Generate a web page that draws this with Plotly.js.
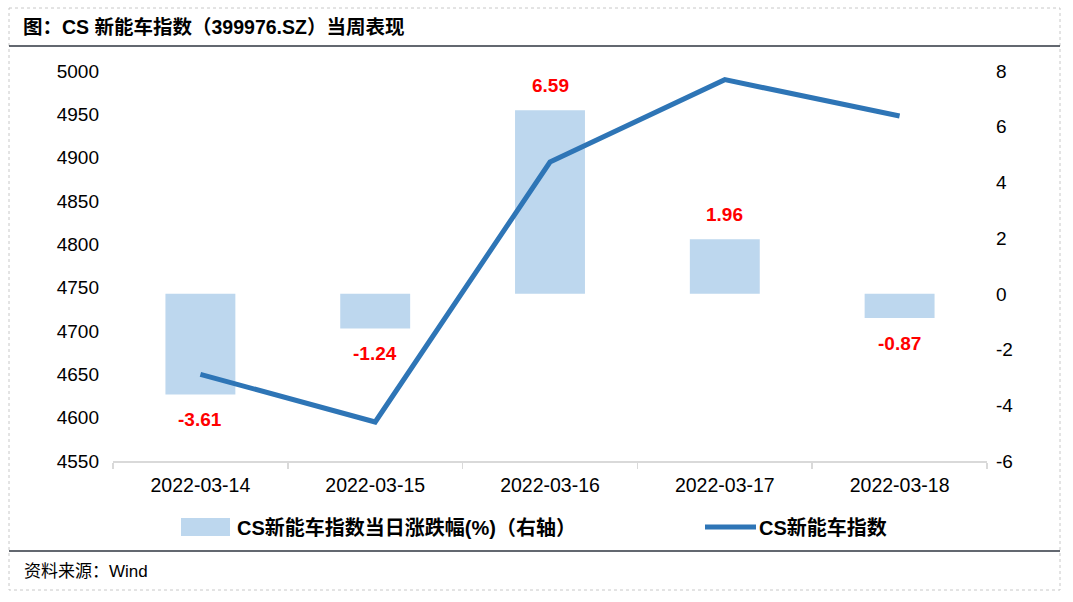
<!DOCTYPE html>
<html>
<head>
<meta charset="utf-8">
<script src="https://cdn.plot.ly/plotly-3.0.1.min.js"></script>
<style>html,body{margin:0;padding:0;background:#fff;}#chart{width:1073px;height:602px;}</style>
</head>
<body>
<div id="chart"></div>
<script>
// ---- data ----
const dates = ["2022-03-14", "2022-03-15", "2022-03-16", "2022-03-17", "2022-03-18"];
const dailyChange = [-3.61, -1.24, 6.59, 1.96, -0.87];          // 当日涨跌幅(%) right axis
const indexClose = [4650, 4595, 4895, 4990, 4948];              // CS新能车指数 left axis
const rightTicks = [-6, -4, -2, 0, 2, 4, 6, 8];
const rightTickText = ["-6", "-4", "-2", "0", "2", "4", "6", "8"];
const barName = "CS新能车指数当日涨跌幅(%)（右轴）";
const lineName = "CS新能车指数";
const titleText = "图：CS 新能车指数（399976.SZ）当周表现";
const sourceText = "资料来源：Wind";

const FONT = "'Liberation Sans', Arial, 'Noto Sans CJK SC', sans-serif";
const barColor = "#bdd7ee";
const lineColor = "#2e75b6";

// plot area geometry (px) for paper-coord conversions
const W = 1073, H = 602, L = 113, R = 86, T = 71, B = 141;
const pw = W - L - R, ph = H - T - B;
const px = x => (x - L) / pw;
const py = y => (H - B - y) / ph;

const traces = [
  {
    type: "bar", x: dates, y: dailyChange, name: barName,
    marker: {color: barColor}, width: 0.4, yaxis: "y", xaxis: "x",
    hoverinfo: "x+y"
  },
  {
    type: "scatter", mode: "lines", x: dates, y: indexClose, name: lineName,
    line: {color: lineColor, width: 5}, yaxis: "y2", xaxis: "x"
  }
];

const annotations = dailyChange.map((v, i) => ({
  x: dates[i], y: v, xref: "x", yref: "y", text: v.toFixed(2),
  showarrow: false, yshift: v >= 0 ? 25 : -25,
  font: {family: FONT, size: 19, color: "#ff0000", weight: "bold"}
}));

annotations.push({
  xref: "paper", yref: "paper", x: px(22), y: py(571), xanchor: "left", yanchor: "middle",
  text: sourceText, showarrow: false, font: {family: FONT, size: 17, color: "#000"}
});
// custom legend labels
annotations.push({
  xref: "paper", yref: "paper", x: px(235), y: py(527), xanchor: "left", yanchor: "middle",
  text: "<b>" + barName + "</b>", showarrow: false, font: {family: FONT, size: 20, color: "#000"}
});
annotations.push({
  xref: "paper", yref: "paper", x: px(757), y: py(527), xanchor: "left", yanchor: "middle",
  text: "<b>" + lineName + "</b>", showarrow: false, font: {family: FONT, size: 20, color: "#000"}
});

const shapes = [
  // dashed outer border
  {type: "rect", xref: "paper", yref: "paper", x0: px(9), x1: px(1060), y0: py(8), y1: py(590),
   line: {color: "#c8c8c8", width: 1, dash: "dot"}},
  // title underline
  {type: "line", xref: "paper", yref: "paper", x0: px(9), x1: px(1060), y0: py(46), y1: py(46),
   line: {color: "#2f3640", width: 1.5}},
  // footer line
  {type: "line", xref: "paper", yref: "paper", x0: px(9), x1: px(1060), y0: py(551), y1: py(551),
   line: {color: "#2f3640", width: 1.5}},
  // legend swatches
  {type: "rect", xref: "paper", yref: "paper", x0: px(181), x1: px(230), y0: py(518), y1: py(536),
   fillcolor: barColor, line: {width: 0}},
  {type: "line", xref: "paper", yref: "paper", x0: px(705), x1: px(756), y0: py(527), y1: py(527),
   line: {color: lineColor, width: 5}}
];

const layout = {
  width: W, height: H,
  margin: {l: L, r: R, t: T, b: B, pad: 0},
  paper_bgcolor: "#fff", plot_bgcolor: "#fff",
  showlegend: false,
  font: {family: FONT, size: 19, color: "#000"},
  title: {
    text: "<b>" + titleText + "</b>", x: 23 / W, xref: "container", xanchor: "left",
    y: 1 - 27 / H, yref: "container", yanchor: "middle",
    font: {family: FONT, size: 19.5, color: "#000"}
  },
  xaxis: {
    type: "category", showgrid: false, zeroline: false,
    showline: true, linecolor: "#d9d9d9", linewidth: 1.5,
    ticks: "outside", tickson: "boundaries", ticklen: 6, tickcolor: "#d9d9d9", tickwidth: 1.5,
    tickfont: {family: FONT, size: 19.5, color: "#000"}, ticklabelstandoff: 6
  },
  yaxis: {
    side: "right", range: [-6, 8], tickmode: "array", tickvals: rightTicks, ticktext: rightTickText,
    showgrid: false, zeroline: false,
    showline: false, ticks: "", tickfont: {family: FONT, size: 19, color: "#000"},
    ticklabelstandoff: 8
  },
  yaxis2: {
    overlaying: "y", side: "left", range: [4550, 5000], dtick: 50, tick0: 4550,
    showgrid: false, zeroline: false, showline: false, ticks: "",
    tickfont: {family: FONT, size: 19, color: "#000"}, ticklabelstandoff: 13
  },
  bargap: 0.6,
  annotations: annotations,
  shapes: shapes
};

Plotly.newPlot("chart", traces, layout, {displayModeBar: false, staticPlot: true});
</script>
</body>
</html>
